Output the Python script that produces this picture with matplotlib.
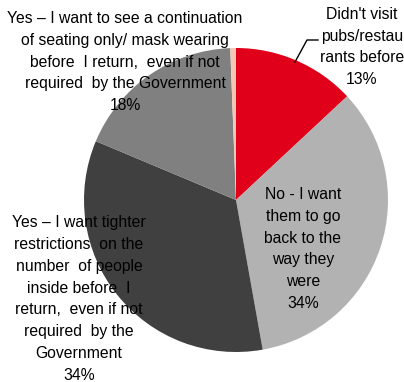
import matplotlib
matplotlib.use("Agg")
import matplotlib.pyplot as plt

# slices, clockwise from 12 o'clock
labels = ["Didn't visit\npubs/restau\nrants before",
          "No - I want\nthem to go\nback to the\nway they\nwere",
          "Yes \u2013 I want tighter\nrestrictions  on the\nnumber  of people\ninside before  I\nreturn,  even if not\nrequired  by the\nGovernment",
          "Yes \u2013 I want to see a continuation\nof seating only/ mask wearing\nbefore  I return,  even if not\nrequired  by the Government",
          ""]
values = [13, 34, 34, 18, 0.6]
pct_labels = ["13%", "34%", "34%", "18%", ""]
colors = ["#E0001A", "#B2B2B2", "#404040", "#808080", "#F7C6B3"]

plt.rcParams['font.family'] = ['Liberation Sans', 'DejaVu Sans']

W, H = 404, 382
cx, cy, R = 236, 200, 152

def px(x, y):
    # pixel position -> pie data coordinates
    return (x - cx) / R, (cy - y) / R

fig = plt.figure(figsize=(W / 100, H / 100), dpi=100)
ax = fig.add_axes([0, 0, 1, 1])
ax.pie(values, colors=colors, startangle=90, counterclock=False, radius=1,
       wedgeprops=dict(linewidth=0))
ax.set_xlim(px(0, 0)[0], px(W, 0)[0])
ax.set_ylim(px(0, H)[1], px(0, 0)[1])
ax.set_aspect('equal')
ax.axis('off')

# label centres in pixels
label_pos = [(362, 47), (303, 249), (79, 299), (125, 62)]
for i, (x, y) in enumerate(label_pos):
    tx, ty = px(x, y)
    ax.text(tx, ty, labels[i] + "\n" + pct_labels[i], ha='center', va='center',
            multialignment='center', fontsize=11.3, linespacing=1.58, color='black')

# leader line for the small red slice
lx = [px(295, 62)[0], px(307, 40)[0], px(318, 40)[0]]
ly = [px(295, 62)[1], px(307, 40)[1], px(318, 40)[1]]
ax.plot(lx, ly, color='black', linewidth=1)

fig.savefig("out.png", dpi=100)
